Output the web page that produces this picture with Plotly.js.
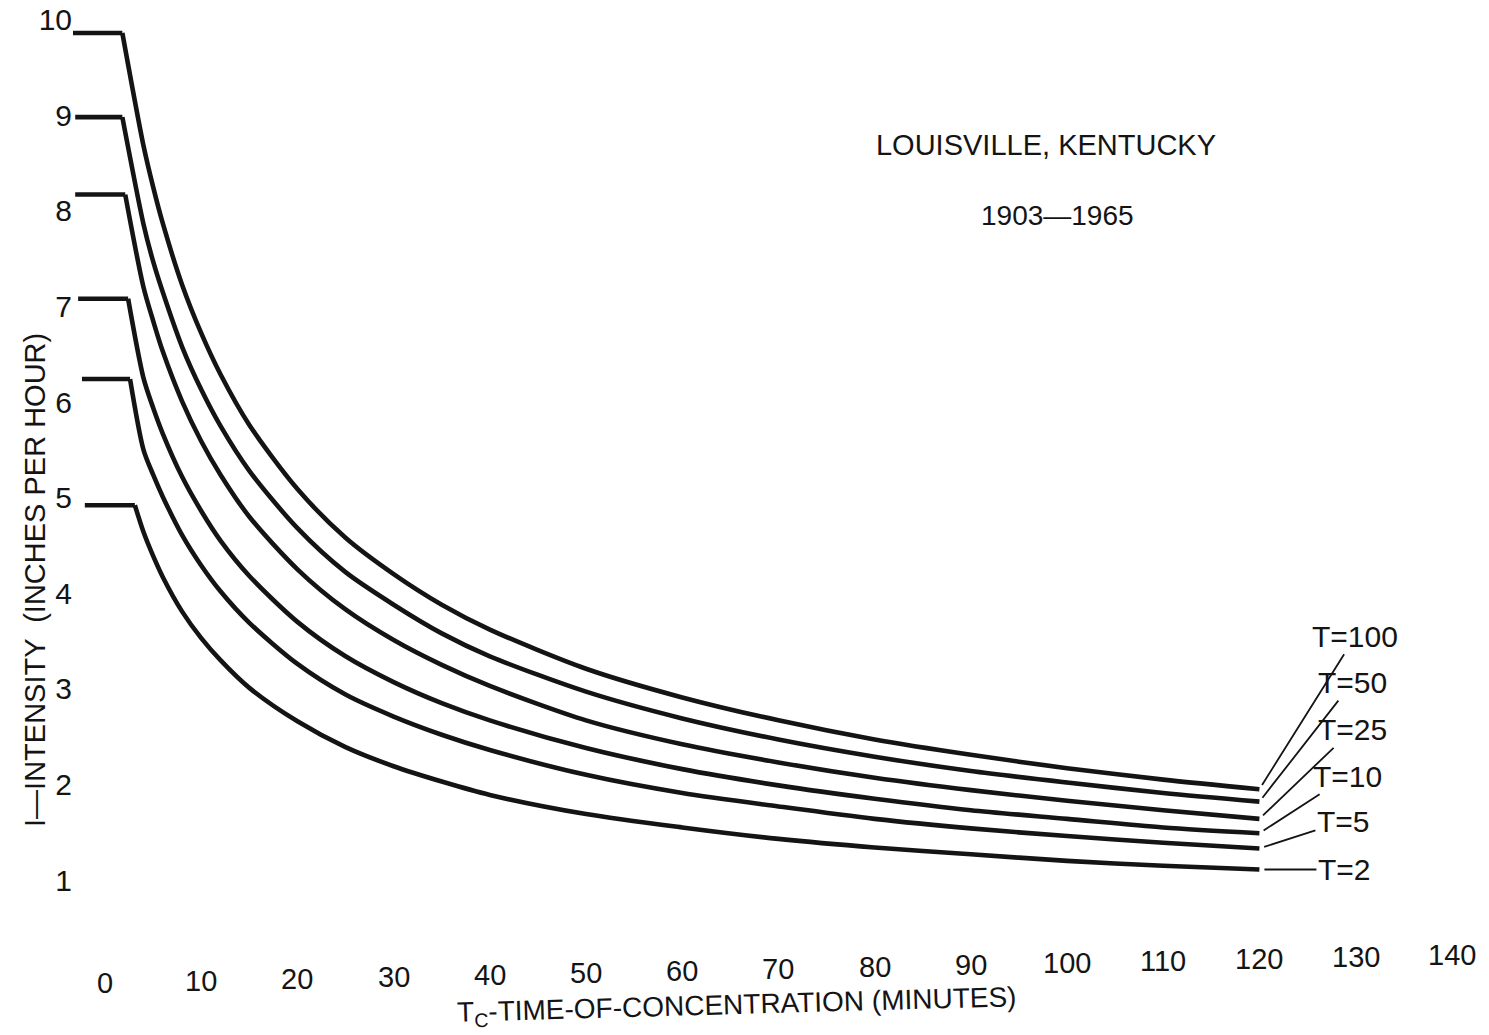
<!DOCTYPE html>
<html>
<head>
<meta charset="utf-8">
<script src="https://cdn.plot.ly/plotly-3.0.1.min.js"></script>
<style>
  html, body { margin: 0; padding: 0; background: #ffffff; }
  #chart { width: 1489px; height: 1035px; }
</style>
</head>
<body>
<div id="chart"></div>
<script>
// Rainfall intensity-duration-frequency curves, Louisville, Kentucky (1903-1965)

// Return-period labels, top curve first
const returnPeriods = ['T=100', 'T=50', 'T=25', 'T=10', 'T=5', 'T=2'];

// Duration (minutes) where each curve leaves its constant starting intensity
const startMinutes = [1.8, 1.8, 2.1, 2.4, 2.6, 3.1];
// Constant starting intensity (inches per hour)
const startIntensity = [9.86, 8.98, 8.17, 7.08, 6.24, 4.92];
// Left end of the constant segment (minutes)
const flatFrom = [-3.4, -3.1, -3.1, -2.8, -2.4, -2.1];

// Durations (minutes) for the falling part of each curve
const durations = [4, 5, 6, 8, 10, 12, 15, 20, 25, 30, 35, 40, 50, 60, 70, 80, 90, 100, 110, 120];

// Intensity (inches per hour) at each duration
const i100 = [8.68, 8.25, 7.87, 7.23, 6.72, 6.29, 5.76, 5.09, 4.58, 4.20, 3.88, 3.62, 3.21, 2.91, 2.67, 2.47, 2.31, 2.17, 2.05, 1.95];
const i50  = [7.86, 7.47, 7.15, 6.58, 6.13, 5.75, 5.28, 4.68, 4.22, 3.88, 3.58, 3.34, 2.97, 2.69, 2.47, 2.29, 2.14, 2.02, 1.91, 1.82];
const i25  = [7.20, 6.85, 6.53, 6.01, 5.59, 5.24, 4.80, 4.25, 3.83, 3.51, 3.25, 3.03, 2.67, 2.42, 2.23, 2.07, 1.94, 1.83, 1.73, 1.64];
const i10  = [6.25, 5.94, 5.67, 5.22, 4.86, 4.55, 4.18, 3.70, 3.34, 3.07, 2.85, 2.67, 2.38, 2.16, 1.99, 1.85, 1.73, 1.64, 1.55, 1.49];
const i5   = [5.50, 5.24, 5.01, 4.61, 4.29, 4.02, 3.69, 3.26, 2.94, 2.71, 2.52, 2.36, 2.10, 1.91, 1.77, 1.64, 1.54, 1.46, 1.39, 1.33];
const i2   = [4.64, 4.39, 4.17, 3.81, 3.53, 3.30, 3.01, 2.66, 2.39, 2.19, 2.03, 1.89, 1.69, 1.55, 1.43, 1.34, 1.27, 1.20, 1.15, 1.11];

// Axis tick labels
const xTickVals = [0, 10, 20, 30, 40, 50, 60, 70, 80, 90, 100, 110, 120, 130, 140];
const xTickText = ['0', '10', '20', '30', '40', '50', '60', '70', '80', '90', '100', '110', '120', '130', '140'];
const yTickVals = [1, 2, 3, 4, 5, 6, 7, 8, 9, 10];
const yTickText = ['1', '2', '3', '4', '5', '6', '7', '8', '9', '10'];

const seriesValues = [i100, i50, i25, i10, i5, i2];

// Label offsets (px) from the end of each curve, for the leader lines
const labelOffsets = [[96, -153], [93, -119], [93, -89], [88, -57], [84, -27], [85, 0]];

const INK = '#141414';
const FONT = 'Liberation Sans, Arial, sans-serif';

const traces = [];
seriesValues.forEach((vals, k) => {
  // constant segment at the shortest durations
  traces.push({
    type: 'scatter', mode: 'lines',
    x: [flatFrom[k], startMinutes[k]],
    y: [startIntensity[k], startIntensity[k]],
    line: { color: INK, width: 4.6, shape: 'linear' },
    hoverinfo: 'skip', name: returnPeriods[k]
  });
  // falling part of the curve
  traces.push({
    type: 'scatter', mode: 'lines',
    x: [startMinutes[k]].concat(durations),
    y: [startIntensity[k]].concat(vals),
    line: { color: INK, width: 4.6, shape: 'spline', smoothing: 0.8 },
    name: returnPeriods[k]
  });
});

const annotations = [];

// x tick labels, lettered along a slight upward drift
xTickVals.forEach((v, k) => {
  annotations.push({
    xref: 'x', yref: 'paper', x: v, y: 0,
    yanchor: 'middle', xanchor: 'center',
    yshift: -(46 - 0.2 * v),
    text: xTickText[k], showarrow: false,
    font: { family: FONT, size: 29, color: INK }
  });
});

// Return-period labels with leader lines to the curve ends
seriesValues.forEach((vals, k) => {
  annotations.push({
    xref: 'x', yref: 'y',
    x: durations[durations.length - 1], y: vals[vals.length - 1],
    text: returnPeriods[k],
    showarrow: true, arrowhead: 0, arrowwidth: 1.8, arrowcolor: INK,
    ax: labelOffsets[k][0], ay: labelOffsets[k][1], standoff: 5,
    font: { family: FONT, size: 30, color: INK }
  });
});

// Period of record
annotations.push({
  xref: 'paper', yref: 'paper', x: 0.7136, y: 0.7705,
  xanchor: 'center', yanchor: 'middle', showarrow: false,
  text: '1903\u20141965',
  font: { family: FONT, size: 28, color: INK }
});

// Axis titles
annotations.push({
  xref: 'paper', yref: 'paper', x: -0.0276, y: 0.381,
  xanchor: 'center', yanchor: 'middle', showarrow: false, textangle: -90,
  text: 'I\u2014INTENSITY  (INCHES PER HOUR)',
  font: { family: FONT, size: 29, color: INK }
});
annotations.push({
  xref: 'paper', yref: 'paper', x: 0.4815, y: -0.074,
  xanchor: 'center', yanchor: 'middle', showarrow: false, textangle: -1.6,
  text: 'T<sub>C</sub>-TIME-OF-CONCENTRATION (MINUTES)',
  font: { family: FONT, size: 28, color: INK }
});

const layout = {
  width: 1489, height: 1035,
  margin: { l: 73, r: 37, t: 0, b: 98 },
  paper_bgcolor: '#ffffff', plot_bgcolor: '#ffffff',
  showlegend: false,
  title: {
    text: 'LOUISVILLE, KENTUCKY',
    xref: 'container', yref: 'container',
    x: 0.7025, y: 0.86, xanchor: 'center', yanchor: 'middle',
    font: { family: FONT, size: 29, color: INK }
  },
  xaxis: {
    range: [-3.33, 140.02],
    showgrid: false, zeroline: false, showline: false,
    showticklabels: false, ticks: ''
  },
  yaxis: {
    range: [0.404, 10.205],
    tickmode: 'array', tickvals: yTickVals, ticktext: yTickText,
    showgrid: false, zeroline: false, showline: false, ticks: '',
    tickfont: { family: FONT, size: 30, color: INK }
  },
  annotations: annotations
};

Plotly.newPlot('chart', traces, layout, { staticPlot: true, displayModeBar: false });
</script>
</body>
</html>
